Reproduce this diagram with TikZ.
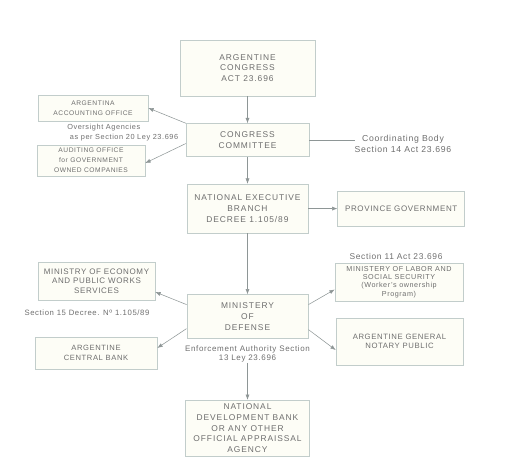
\documentclass[tikz,border=0pt]{standalone}
\usepackage{fontspec}
\setmainfont[LetterSpace=8]{Liberation Sans}
\newfontfamily\widefont[LetterSpace=11]{Liberation Sans}
\usepackage{tikz}
\usetikzlibrary{positioning}
\usetikzlibrary{arrows.meta}
\definecolor{boxline}{HTML}{C2CDCB}
\definecolor{boxfill}{HTML}{FDFDF6}
\definecolor{inkgray}{HTML}{6E6E6E}
\definecolor{wiregray}{HTML}{8E9696}
\tikzset{
	flow/.style = {-{Latex[length=4pt,width=3pt]}, draw=wiregray, thin},
	mainbox/.style = {rectangle, draw=boxline, fill=boxfill, align=center,
		text=inkgray, minimum width=91pt, inner sep=2pt,
		font=\widefont\fontsize{6.3}{8}\selectfont},
	sidebox/.style = {rectangle, draw=boxline, fill=boxfill, align=center,
		text=inkgray, minimum width=95pt, inner sep=2pt,
		font=\fontsize{5}{7.5}\selectfont},
	note/.style = {align=center, text=inkgray, inner sep=0pt,
		font=\fontsize{5.8}{7}\selectfont},
}
\begin{document}
\begin{tikzpicture}[x=0.75pt, y=-0.75pt, node distance = 20.25pt]
	\useasboundingbox (0,0) rectangle (513,465);
	% main chain
	\node (congress) [mainbox, minimum width=101pt, minimum height=42pt] at (247.5,68)
		{ARGENTINE\\CONGRESS\\ACT 23.696};
	\node (committee) [mainbox, minimum width=92pt, minimum height=24.75pt, below = of congress]
		{CONGRESS\\COMMITTEE};
	\node (neb) [mainbox, minimum height=36.75pt, below = of committee]
		{NATIONAL EXECUTIVE\\BRANCH\\DECREE 1.105/89};
	\node (defense) [mainbox, minimum height=33pt, below = 45.75pt of neb]
		{MINISTERY\\OF\\DEFENSE};
	\node (ndb) [mainbox, minimum width=93pt, minimum height=42pt, below = 45.75pt of defense]
		{NATIONAL\\DEVELOPMENT BANK\\OR ANY OTHER\\OFFICIAL APPRAISSAL\\AGENCY};
	% left side
	\node (accounting) [sidebox, minimum width=82.5pt, minimum height=19.5pt] at (93,108)
		{ARGENTINA\\ACCOUNTING OFFICE};
	\node (auditing) [sidebox, minimum width=81pt, minimum height=23.25pt] at (91,160.5)
		{AUDITING OFFICE\\for GOVERNMENT\\OWNED COMPANIES};
	\node (economy) [sidebox, minimum width=87.75pt, minimum height=28.5pt,
		font=\fontsize{6}{7.1}\selectfont] at (96.5,281)
		{MINISTRY OF ECONOMY\\AND PUBLIC WORKS\\SERVICES};
	\node (centralbank) [sidebox, minimum width=91.5pt, minimum height=24pt,
		font=\fontsize{5.7}{7.5}\selectfont] at (96,353)
		{ARGENTINE\\CENTRAL BANK};
	% right side
	\node (province) [sidebox, minimum width=95.25pt, minimum height=26.25pt,
		font=\fontsize{6}{7.5}\selectfont, right = 21.75pt of neb]
		{PROVINCE GOVERNMENT};
	\node (labor) [sidebox, minimum width=96pt, minimum height=28.5pt,
		font=\fontsize{5.4}{6.3}\selectfont] at (399,282)
		{MINISTERY OF LABOR AND\\SOCIAL SECURITY\\(Worker's ownership\\Program)};
	\node (notary) [sidebox, minimum width=95.25pt, minimum height=35.25pt,
		font=\fontsize{5.8}{7}\selectfont] at (399.5,341.5)
		{ARGENTINE GENERAL\\NOTARY PUBLIC};
	% notes
	\node (oversight) [note, align=left, anchor=west, font=\fontsize{5.5}{7}\selectfont] at (67,132.5)
		{Oversight Agencies\\\ as per Section 20 Ley 23.696};
	\node (coordinating) [note, font=\fontsize{6.5}{8.2}\selectfont] at (403,143.5)
		{Coordinating Body\\Section 14 Act 23.696};
	\node (section15) [note] at (87,313)
		{Section 15 Decree. Nº 1.105/89};
	\node (section11) [note, font=\fontsize{6.3}{7}\selectfont] at (396,256)
		{Section 11 Act 23.696};
	\node (enforcement) [note, font=\fontsize{6}{7}\selectfont, below = 5pt of defense]
		{Enforcement Authority Section\\13 Ley 23.696};
	\coordinate (coordend) at (355,140);
	% connectors
	\draw[flow] (congress) -- (committee);
	\draw[flow] (committee) -- (neb);
	\draw[flow] (neb) -- (defense);
	\draw[flow] (enforcement) -- (ndb);
	\draw[flow] (neb.east) -- (province.west |- neb.east);
	\draw[draw=wiregray, thin] (committee.east |- coordend) -- (coordend);
	\draw[flow] (committee.north west) -- (accounting.east);
	\draw[flow] ([yshift=-2.6pt]committee.west) -- ([yshift=-1.9pt]auditing.east);
	\draw[flow] ([yshift=9pt]defense.west) -- ([yshift=-8.25pt]economy.east);
	\draw[flow] ([yshift=-9pt]defense.west) -- ([yshift=3.75pt]centralbank.east);
	\draw[flow] ([yshift=9pt]defense.east) -- ([yshift=-5.6pt]labor.west);
	\draw[flow] ([yshift=-9.75pt]defense.east) -- ([yshift=-6.4pt]notary.west);
\end{tikzpicture}
\end{document}
